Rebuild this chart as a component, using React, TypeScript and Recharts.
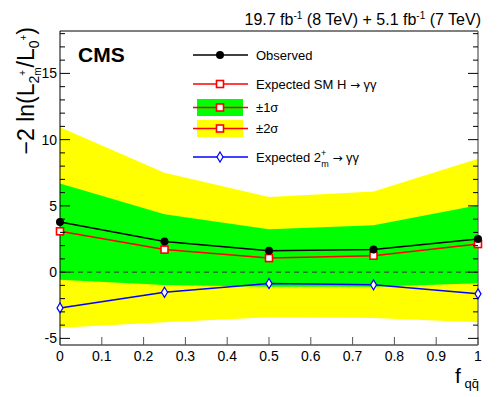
import React from 'react';
import {
  Area,
  ComposedChart,
  Line,
  ReferenceLine,
  XAxis,
  YAxis,
} from 'recharts';

const fqq = [0, 0.25, 0.5, 0.75, 1];
const observed = [3.79, 2.32, 1.62, 1.7, 2.5];
const expectedSM = [3.08, 1.7, 1.06, 1.24, 2.12];
const expected2m = [-2.7, -1.52, -0.86, -0.96, -1.64];
const sigma1Low = [-0.58, -0.98, -1.1, -1.1, -0.83];
const sigma1High = [6.69, 4.37, 3.23, 3.53, 5.05];
const sigma2Low = [-4.2, -3.79, -3.41, -3.46, -3.79];
const sigma2High = [10.93, 7.5, 5.68, 6.08, 8.56];

const xTicks = [0, 0.1, 0.2, 0.3, 0.4, 0.5, 0.6, 0.7, 0.8, 0.9, 1];
const yTicks = [-5, -4, -3, -2, -1, 0, 1, 2, 3, 4, 5, 6, 7, 8, 9, 10, 11, 12, 13, 14, 15, 16, 17, 18];
const yLabels = [-5, 0, 5, 10, 15];

const data = fqq.map((f, i) => ({
  f,
  obs: observed[i],
  sm: expectedSM[i],
  spin2: expected2m[i],
  s1: [sigma1Low[i], sigma1High[i]],
  s2: [sigma2Low[i], sigma2High[i]],
}));

const FONT = '"Liberation Sans", Arial, Helvetica, sans-serif';
const GREEN = '#00ff00';
const YELLOW = '#ffff00';

const LeftTick = (props: any) => {
  const { x, y, payload } = props;
  const major = yLabels.includes(payload.value);
  return (
    <g>
      <line x1={x} x2={x + (major ? 10 : 5)} y1={y} y2={y} stroke="#000" strokeWidth={1} />
      {major && (
        <text x={x - 3} y={y + 5} textAnchor="end" fontSize={14} fontFamily={FONT} fill="#000">
          {payload.value}
        </text>
      )}
    </g>
  );
};

const RightTick = (props: any) => {
  const { x, y, payload } = props;
  const major = yLabels.includes(payload.value);
  return <line x1={x} x2={x - (major ? 10 : 5)} y1={y} y2={y} stroke="#000" strokeWidth={1} />;
};

const BottomTick = (props: any) => {
  const { x, y, payload } = props;
  return (
    <g>
      <line x1={x} x2={x} y1={y} y2={y - 8} stroke="#555" strokeWidth={1} />
      <text x={x} y={y + 16} textAnchor="middle" fontSize={14} fontFamily={FONT} fill="#000">
        {String(payload.value)}
      </text>
    </g>
  );
};

const Circle = (props: any) => {
  const { cx, cy } = props;
  return <circle key={`o${cx}`} cx={cx} cy={cy} r={4} fill="#000" />;
};

const Square = (props: any) => {
  const { cx, cy } = props;
  return (
    <rect key={`s${cx}`} x={cx - 3.5} y={cy - 3.5} width={7} height={7} fill="#fff" stroke="#ff0000" strokeWidth={1.6} />
  );
};

const Diamond = (props: any) => {
  const { cx, cy } = props;
  return (
    <polygon
      key={`d${cx}`}
      points={`${cx},${cy - 5} ${cx + 3},${cy} ${cx},${cy + 5} ${cx - 3},${cy}`}
      fill="#fff"
      stroke="#0000ff"
      strokeWidth={1.2}
    />
  );
};

const Arrow = () => <tspan fontFamily='"DejaVu Sans", sans-serif' fontSize={12}>→</tspan>;

const Overlay = () => (
  <svg
    width={498}
    height={397}
    style={{ position: 'absolute', left: 0, top: 0, pointerEvents: 'none' }}
    fontFamily={FONT}
  >
    {/* luminosity header */}
    <text x={481} y={25} textAnchor="end" fontSize={16} fill="#000">
      19.7 fb<tspan fontSize={10} dy={-6}>-1</tspan>
      <tspan dy={6}> (8 TeV) + 5.1 fb</tspan>
      <tspan fontSize={10} dy={-6}>-1</tspan>
      <tspan dy={6}> (7 TeV)</tspan>
    </text>

    <text x={78} y={62} fontSize={21} fontWeight="bold" fill="#000">CMS</text>

    {/* y title */}
    <text x={34} y={27} transform="rotate(-90 34 27)" textAnchor="end" fontSize={23} fill="#000">
      −2 ln(L
      <tspan fontSize={14} dy={5}>2</tspan>
      <tspan fontSize={10} dy={-13}>+</tspan>
      <tspan fontSize={10} dx={-6} dy={15}>m</tspan>
      <tspan dy={-7}>/L</tspan>
      <tspan fontSize={14} dy={5}>0</tspan>
      <tspan fontSize={10} dy={-12}>+</tspan>
      <tspan dy={7}>)</tspan>
    </text>

    {/* x title */}
    <text x={479} y={383} textAnchor="end" fontSize={21} fill="#000">
      f<tspan fontSize={13} dy={5}> q{'q\u0304'}</tspan>
    </text>

    {/* legend */}
    <line x1={193} x2={248} y1={55} y2={55} stroke="#000" strokeWidth={1.5} />
    <circle cx={220} cy={55} r={4} fill="#000" />
    <text x={256} y={60} fontSize={13} fill="#000">Observed</text>

    <line x1={193} x2={248} y1={84} y2={84} stroke="#ff0000" strokeWidth={1.5} />
    <rect x={216.5} y={80.5} width={7} height={7} fill="#fff" stroke="#ff0000" strokeWidth={1.6} />
    <text x={256} y={89} fontSize={13} fill="#000">
      Expected SM H <Arrow /> γγ
    </text>

    <rect x={197} y={99} width={46} height={17} fill={GREEN} />
    <line x1={193} x2={248} y1={107.5} y2={107.5} stroke="#ff0000" strokeWidth={1.5} />
    <rect x={216.5} y={104} width={7} height={7} fill="#fff" stroke="#ff0000" strokeWidth={1.6} />
    <text x={256} y={112} fontSize={13} fill="#000">±1σ</text>

    <rect x={197} y={120} width={46} height={17} fill={YELLOW} />
    <line x1={193} x2={248} y1={128.5} y2={128.5} stroke="#ff0000" strokeWidth={1.5} />
    <rect x={216.5} y={125} width={7} height={7} fill="#fff" stroke="#ff0000" strokeWidth={1.6} />
    <text x={256} y={133} fontSize={13} fill="#000">±2σ</text>

    <line x1={193} x2={248} y1={157} y2={157} stroke="#0000ff" strokeWidth={1.5} />
    <polygon points="220,152 223,157 220,162 217,157" fill="#fff" stroke="#0000ff" strokeWidth={1.2} />
    <text x={256} y={162} fontSize={13} fill="#000">
      Expected 2<tspan fontSize={9} dy={-6}>+</tspan>
      <tspan fontSize={9} dx={-5} dy={11}>m</tspan>
      <tspan dy={-5}> </tspan>
      <Arrow /> γγ
    </text>
  </svg>
);

const App: React.FC = () => (
  <div style={{ position: 'absolute', left: 0, top: 0, width: 498, height: 397, background: '#fff' }}>
    <ComposedChart
      width={498}
      height={397}
      data={data}
      margin={{ top: 30, right: 19, bottom: 51, left: 59 }}
    >
      <XAxis
        xAxisId="bottom"
        dataKey="f"
        type="number"
        domain={[0, 1]}
        ticks={xTicks}
        height={1}
        tickSize={0}
        tickMargin={0}
        tick={<BottomTick />}
        axisLine={{ stroke: '#000', strokeWidth: 1 }}
        tickLine={false}
        interval={0}
      />
      <XAxis
        xAxisId="top"
        orientation="top"
        dataKey="f"
        type="number"
        domain={[0, 1]}
        height={1}
        tick={false}
        tickLine={false}
        axisLine={{ stroke: '#000', strokeWidth: 1 }}
      />
      <YAxis
        yAxisId="left"
        type="number"
        domain={[-5.5, 18.2]}
        ticks={yTicks}
        width={1}
        tickSize={0}
        tickMargin={0}
        tick={<LeftTick />}
        tickLine={false}
        axisLine={{ stroke: '#000', strokeWidth: 1 }}
        interval={0}
        allowDataOverflow
      />
      <YAxis
        yAxisId="right"
        orientation="right"
        type="number"
        domain={[-5.5, 18.2]}
        ticks={yTicks}
        width={1}
        tickSize={0}
        tickMargin={0}
        tick={<RightTick />}
        tickLine={false}
        axisLine={{ stroke: '#777', strokeWidth: 1.5 }}
        interval={0}
        allowDataOverflow
      />
      <Area
        xAxisId="bottom"
        yAxisId="left"
        type="linear"
        dataKey="s2"
        stroke="none"
        fill={YELLOW}
        fillOpacity={1}
        isAnimationActive={false}
      />
      <Area
        xAxisId="bottom"
        yAxisId="left"
        type="linear"
        dataKey="s1"
        stroke="none"
        fill={GREEN}
        fillOpacity={1}
        isAnimationActive={false}
      />
      <ReferenceLine
        xAxisId="bottom"
        yAxisId="left"
        y={0}
        stroke="#333"
        strokeDasharray="5 4"
        strokeWidth={1}
      />
      <Line
        xAxisId="bottom"
        yAxisId="left"
        type="linear"
        dataKey="spin2"
        stroke="#0000ff"
        strokeWidth={1.5}
        dot={<Diamond />}
        isAnimationActive={false}
      />
      <Line
        xAxisId="bottom"
        yAxisId="left"
        type="linear"
        dataKey="sm"
        stroke="#ff0000"
        strokeWidth={1.5}
        dot={<Square />}
        isAnimationActive={false}
      />
      <Line
        xAxisId="bottom"
        yAxisId="left"
        type="linear"
        dataKey="obs"
        stroke="#000"
        strokeWidth={1.5}
        dot={<Circle />}
        isAnimationActive={false}
      />
    </ComposedChart>
    <Overlay />
  </div>
);

export default App;
